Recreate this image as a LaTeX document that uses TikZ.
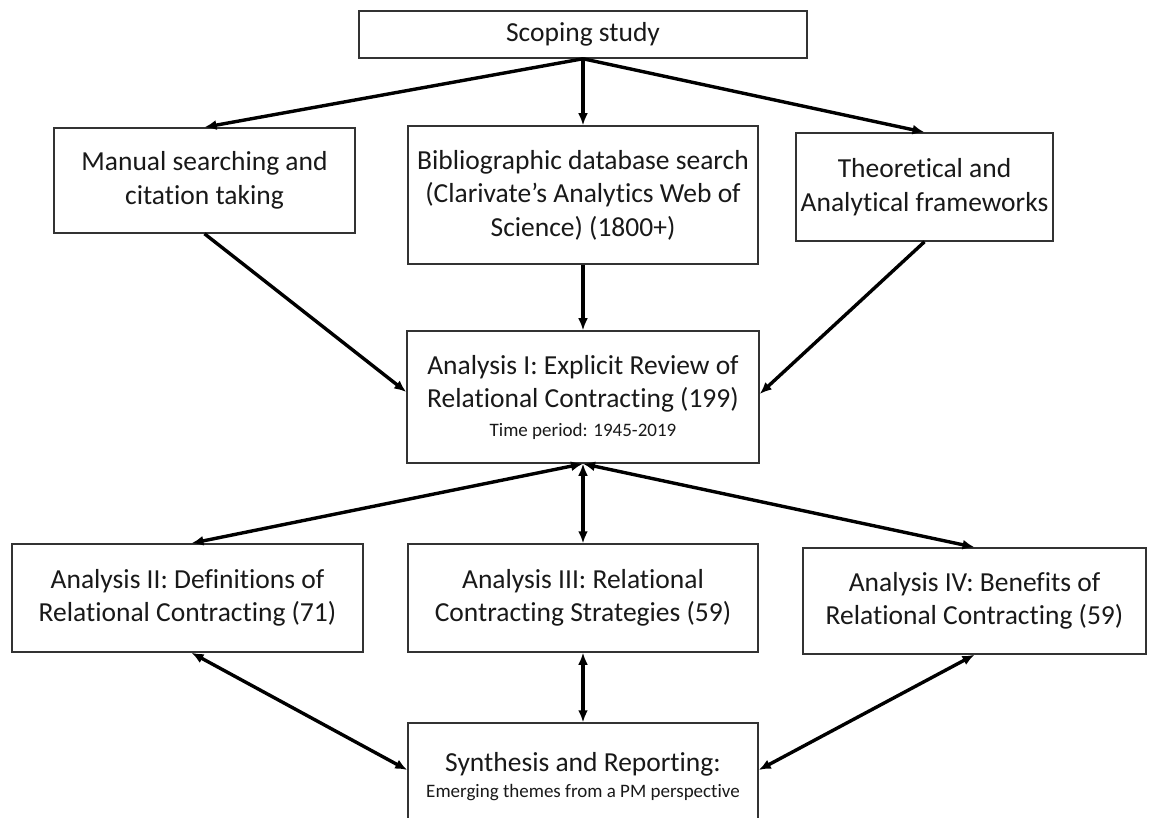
\documentclass[tikz,border=0pt]{standalone}
\usepackage{fontspec}
\setmainfont{Carlito}[Ligatures=NoCommon]
\usetikzlibrary{arrows.meta}

\begin{document}
\begin{tikzpicture}[x=1pt,y=-1pt,
  box/.style={draw=black!80, line width=1.5pt, rectangle, inner sep=0pt,
    align=center, font=\fontsize{27.5}{33.5}\selectfont, text=black!90},
  tip/.tip={Latex[length=12pt,width=10pt]},
  link/.style={line width=3.4pt, -tip},
  twoway/.style={line width=3.4pt, tip-tip}]
\useasboundingbox (0,0) rectangle (1149,818);
\clip (0,0) rectangle (1149,818);
\fill[white] (0,0) rectangle (1149,818);

% top row
\node[box, minimum width=448pt, minimum height=47pt] (scope) at (583,34.5) {Scoping study};

% sources
\node[box, minimum width=301pt, minimum height=105pt] (manual) at (204.5,180.5)
  {Manual searching and\\citation taking};
\node[box, minimum width=350pt, minimum height=138pt] (biblio) at (583,195)
  {Bibliographic database search\\(Clarivate’s Analytics Web of\\Science) (1800+)};
\node[box, minimum width=257pt, minimum height=108pt] (theory) at (924.5,187)
  {Theoretical and\\Analytical frameworks};

% explicit review
\node[box, minimum width=352pt, minimum height=132pt] (rev) at (583,397)
  {Analysis I: Explicit Review of\\Relational Contracting (199)\\[-5pt]
   {\fontsize{19}{23}\selectfont Time period: 1945-2019}};

% follow-up analyses
\node[box, minimum width=351pt, minimum height=108pt] (defs) at (187.5,598)
  {Analysis II: Definitions of\\Relational Contracting (71)};
\node[box, minimum width=350pt, minimum height=108pt] (strat) at (583,598)
  {Analysis III: Relational\\Contracting Strategies (59)};
\node[box, minimum width=343pt, minimum height=106pt] (bene) at (974.5,601)
  {Analysis IV: Benefits of\\Relational Contracting (59)};

% synthesis (runs off the lower edge)
\node[box, minimum width=350pt, minimum height=107pt] (synth) at (583,776.5)
  {Synthesis and Reporting:\\[-8pt]
   {\fontsize{19}{23}\selectfont Emerging themes from a PM perspective}};

% connectors
\draw[link] (scope.south) -- (manual.north);
\draw[link] (scope.south) -- (biblio.north);
\draw[link] (scope.south) -- (theory.north);

\draw[link] (manual.south) -- ([yshift=5pt]rev.west);
\draw[link] (biblio.south) -- (rev.north);
\draw[link] (theory.south) -- ([yshift=3pt]rev.east);

\draw[twoway] (rev.south) -- ([xshift=4pt]defs.north);
\draw[twoway] (rev.south) -- (strat.north);
\draw[twoway] (rev.south) -- (bene.north);

\draw[twoway] ([xshift=4pt]defs.south) -- ([yshift=6.5pt]synth.west);
\draw[twoway] (strat.south) -- (synth.north);
\draw[twoway] (bene.south) -- ([yshift=6.5pt]synth.east);
\end{tikzpicture}
\end{document}
